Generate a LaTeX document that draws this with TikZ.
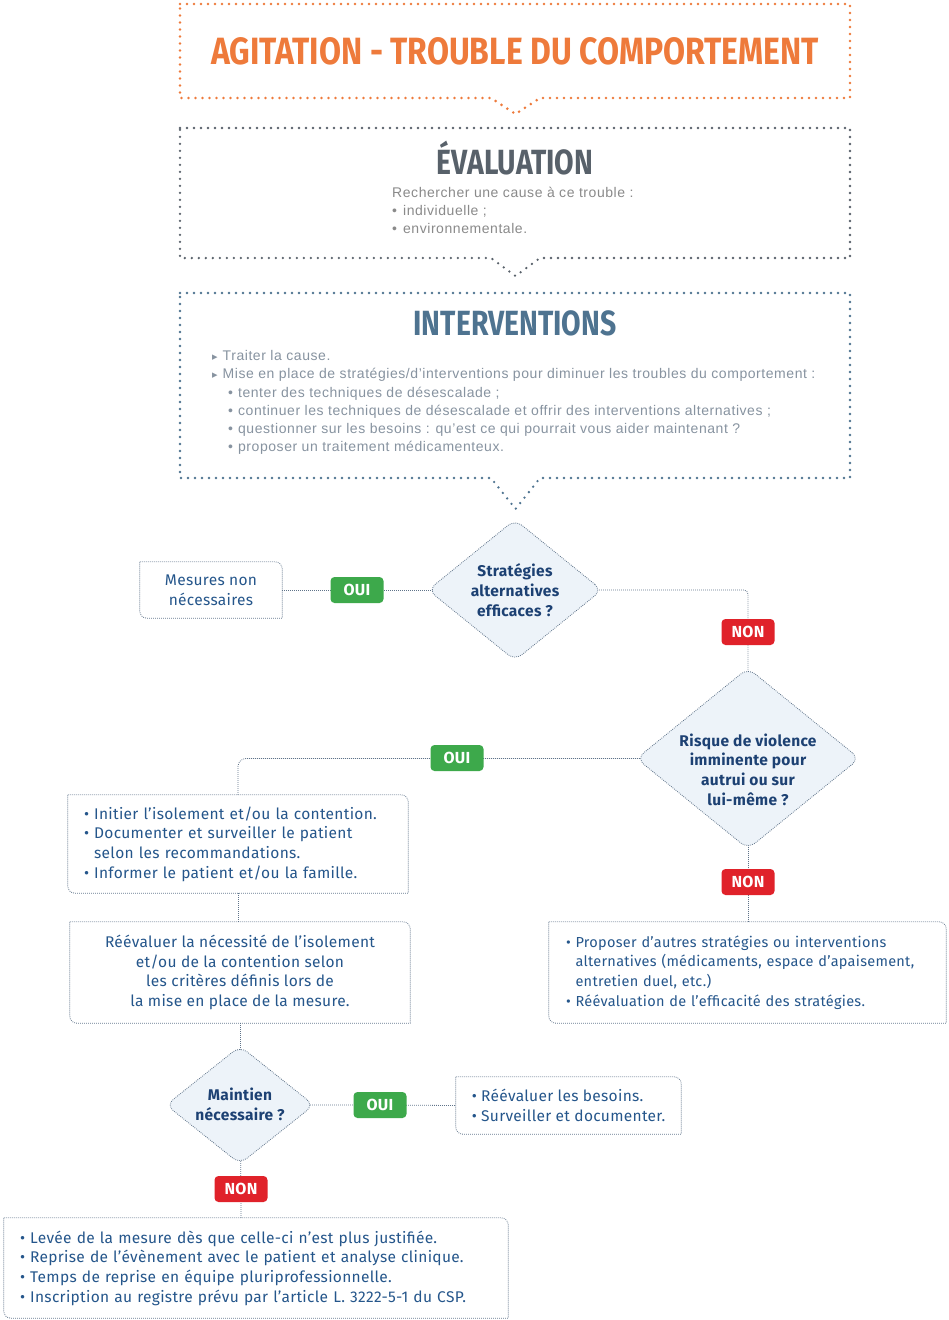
\documentclass[tikz,border=0pt]{standalone}
\usepackage{fontspec}
\usetikzlibrary{shapes.geometric,backgrounds}
\setmainfont[LetterSpace=2]{Fira Sans}
\newfontfamily\boxfive[LetterSpace=2]{Fira Sans}
\newfontfamily\condfont[FakeStretch=0.84]{Fira Sans}
\newfontfamily\condfontb[FakeStretch=0.81]{Fira Sans}
\newfontfamily\helv[LetterSpace=4]{Liberation Sans}
\newfontfamily\dejavu{DejaVu Sans}
\definecolor{orangeC}{HTML}{EE7A3B}
\definecolor{evalC}{HTML}{58616A}
\definecolor{intC}{HTML}{4E7390}
\definecolor{greyT}{HTML}{8A8A8A}
\definecolor{intT}{HTML}{8793A0}
\definecolor{flT}{HTML}{25568B}
\definecolor{dT}{HTML}{1D4173}
\definecolor{lineC}{HTML}{5F7389}
\definecolor{dFill}{HTML}{EDF3F9}
\definecolor{ouiC}{HTML}{3DA94B}
\definecolor{nonC}{HTML}{E0222A}
\newcommand\bxborder[1]{\draw[bdr] (#1.north west) -- ([xshift=-7pt]#1.north east) arc[start angle=90,end angle=0,radius=7pt] -- (#1.south east) -- ([xshift=7pt]#1.south west) arc[start angle=270,end angle=180,radius=7pt] -- cycle;}
\newcommand\tri{{\dejavu\fontsize{11}{11}\selectfont ▸}\hspace{5pt}}
\begin{document}
\begin{tikzpicture}[x=1pt,y=1pt,
  bigdots/.style={line width=2.9pt, line cap=round, dash pattern=on 0pt off 7pt},
  conn/.style={draw=lineC, line width=0.8pt, dash pattern=on 0.8pt off 1.2pt},
  bdr/.style={draw=lineC, line width=0.8pt, dash pattern=on 0.8pt off 1.2pt},
  box/.style={inner sep=0pt, text=flT, font=\fontsize{15.5}{19.7}\selectfont},
  dia/.style={diamond, draw=lineC, line width=0.8pt, dash pattern=on 0.8pt off 1.2pt, fill=dFill, rounded corners=9pt, inner sep=0pt},
  dtext/.style={inner sep=0pt, align=center, text=dT, font=\bfseries\fontsize{15.5}{19.7}\selectfont},
  pill/.style={rounded corners=4pt, minimum width=53pt, minimum height=26pt, inner sep=0pt, text=white, font=\bfseries\fontsize{16}{16}\selectfont},
  oui/.style={pill, fill=ouiC},
  non/.style={pill, fill=nonC}]
\useasboundingbox (0,0) rectangle (948,-1320);
% top boxes
\draw[bigdots, draw=orangeC] (180,-4) -- (850,-4) -- (850,-98) -- (540,-98) -- (515.5,-114) -- (491,-98) -- (180,-98) -- cycle;
\node[text=orangeC, font=\condfont\bfseries\fontsize{38}{38}\selectfont] (title) at (515,-51) {AGITATION - TROUBLE DU COMPORTEMENT};

\draw[bigdots, draw=evalC, line width=2.6pt] (180,-128) -- (850,-128) -- (850,-258) -- (540,-258) -- (515.5,-276) -- (491,-258) -- (180,-258) -- cycle;
\node[text=evalC, font=\condfontb\bfseries\fontsize{35}{35}\selectfont] (evt) at (515,-158) {ÉVALUATION};
\node[anchor=west, inner sep=0pt, align=left, text=greyT, font=\helv\fontsize{14}{18}\selectfont] (evb) at (392,-210) {Rechercher une cause à ce trouble :\\ \textbullet\hspace{6pt}individuelle ;\\ \textbullet\hspace{6pt}environnementale.};

\draw[bigdots, draw=intC, line width=2.6pt] (180,-293) -- (850,-293) -- (850,-478) -- (540,-478) -- (515.5,-509) -- (491,-478) -- (180,-478) -- cycle;
\node[text=intC, font=\condfontb\bfseries\fontsize{35}{35}\selectfont] (intt) at (515,-323) {INTERVENTIONS};
\node[anchor=west, inner sep=0pt, align=left, text=intT, font=\helv\fontsize{14}{18.2}\selectfont] (intb) at (212,-402.5) {\tri Traiter la cause.\\
\tri Mise en place de stratégies/d’interventions pour diminuer les troubles du comportement :\\
\hspace*{16pt}\textbullet\hspace{5pt}tenter des techniques de désescalade ;\\
\hspace*{16pt}\textbullet\hspace{5pt}continuer les techniques de désescalade et offrir des interventions alternatives ;\\
\hspace*{16pt}\textbullet\hspace{5pt}questionner sur les besoins : qu’est ce qui pourrait vous aider maintenant ?\\
\hspace*{16pt}\textbullet\hspace{5pt}proposer un traitement médicamenteux.};

% flowchart nodes
\node[dia, minimum width=174pt, minimum height=141pt] (d1) at (515,-590) {};
\node[dtext] (d1t) at (d1.center) {Stratégies\\ alternatives\\ efficaces ?};
\node[box, minimum width=142pt, minimum height=56pt, align=center] (mes) at (211,-590) {Mesures non\\ nécessaires};
\bxborder{mes}
\node[oui] (oui1) at (357,-590) {OUI};
\node[non] (non1) at (748,-632) {NON};
\node[dia, minimum width=223pt, minimum height=181pt] (d2) at (748,-758.5) {};
\node[dtext] (d2t) at ([yshift=-11pt]d2.center) {Risque de violence\\ imminente pour\\ autrui ou sur\\ lui-même ?};
\node[oui] (oui2) at (457,-758) {OUI};
\node[box, minimum width=340pt, minimum height=98pt, text width=308pt, align=left, inner xsep=16pt] (b3) at (238,-844) {\textbullet\ Initier l’isolement et/ou la contention.\\ \textbullet\ Documenter et surveiller le patient\\ \phantom{\textbullet\ }selon les recommandations.\\ \textbullet\ Informer le patient et/ou la famille.};
\bxborder{b3}
\node[box, minimum width=340pt, minimum height=101pt, align=center] (b4) at (240,-972.5) {Réévaluer la nécessité de l’isolement\\ et/ou de la contention selon\\ les critères définis lors de\\ la mise en place de la mesure.};
\bxborder{b4}
\node[non] (non2) at (748,-882) {NON};
\node[box, font=\boxfive\fontsize{14.5}{19.7}\selectfont, minimum width=397pt, minimum height=101pt, text width=363pt, align=left, inner xsep=17pt] (b5) at (747.5,-972.5) {\textbullet\ Proposer d’autres stratégies ou interventions\\ \phantom{\textbullet\ }alternatives (médicaments, espace d’apaisement,\\ \phantom{\textbullet\ }entretien duel, etc.)\\ \textbullet\ Réévaluation de l’efficacité des stratégies.};
\bxborder{b5}
\node[dia, minimum width=148pt, minimum height=118pt] (d3) at (240,-1105) {};
\node[dtext] (d3t) at ([yshift=1pt]d3.center) {Maintien\\ nécessaire ?};
\node[oui] (oui3) at (380,-1105) {OUI};
\node[box, minimum width=225pt, minimum height=57pt, align=left] (b6) at (568.5,-1105.5) {\textbullet\ Réévaluer les besoins.\\ \textbullet\ Surveiller et documenter.};
\bxborder{b6}
\node[non] (non3) at (241,-1189) {NON};
\node[box, minimum width=504pt, minimum height=100pt, text width=472pt, align=left, inner xsep=16pt] (b7) at (256,-1268) {\textbullet\ Levée de la mesure dès que celle-ci n’est plus justifiée.\\ \textbullet\ Reprise de l’évènement avec le patient et analyse clinique.\\ \textbullet\ Temps de reprise en équipe pluriprofessionnelle.\\ \textbullet\ Inscription au registre prévu par l’article L. 3222-5-1 du CSP.};
\bxborder{b7}

% connectors (under the filled shapes)
\begin{scope}[on background layer]
\fill[white] (0,0) rectangle (948,-1320);
\draw[conn] (mes.east) -- (oui1.center) -- (d1.center);
\draw[conn, rounded corners=4pt] (d1.center) -| (non1.center) -- (d2.center);
\draw[conn, rounded corners=8pt] (d2.center) -| (b3.north);
\draw[conn] (d2.center) -- (non2.center) -- (b5.north -| non2.center);
\draw[conn] (b3.south) -- (b4.north -| b3.south);
\draw[conn] (b4.south -| d3.center) -- (d3.center);
\draw[conn] (d3.center) -- (oui3.center) -- (b6.west);
\draw[conn] (d3.center) -- (non3.center) -- (b7.north -| non3.center);
\end{scope}
\end{tikzpicture}
\end{document}
